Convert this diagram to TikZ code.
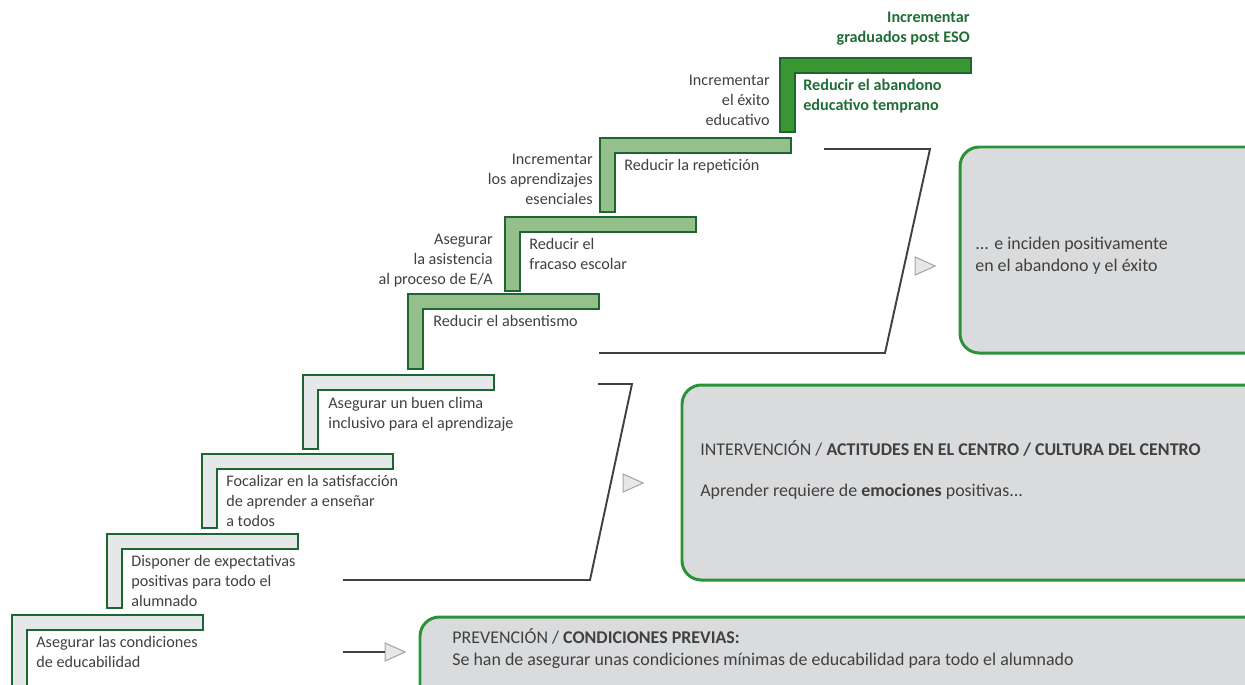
\documentclass[tikz,border=0pt]{standalone}
\usepackage{fontspec}
\setmainfont{Carlito}
\usetikzlibrary{shapes.geometric}
\definecolor{stepline}{HTML}{1E6631}
\definecolor{stepgray}{HTML}{E6E7E8}
\definecolor{stepmid}{HTML}{95C08B}
\definecolor{steptop}{HTML}{3A9632}
\definecolor{boxline}{HTML}{2B923A}
\definecolor{boxfill}{HTML}{DADBDD}
\definecolor{txt}{HTML}{404040}
\definecolor{toptxt}{HTML}{1F6E36}
\definecolor{trigray}{HTML}{A6A6A6}
\tikzset{stair/.style = {draw=stepline, line width=1.1pt, line join=miter},
  lbl/.style = {anchor=north west, inner sep=0, align=left, text=txt,
    font=\fontsize{9.2}{11.4}\selectfont},
  rlbl/.style = {lbl, anchor=north east, align=right},
  goal/.style = {lbl, text=toptxt, font=\fontsize{9.2}{11.4}\selectfont\bfseries},
  panel/.style = {draw=boxline, fill=boxfill, line width=1.7pt, rounded corners=11pt},
  ptxt/.style = {lbl, font=\fontsize{10.2}{12.5}\selectfont},
  brace/.style = {draw=txt, line width=1.1pt},
  tri/.style = {isosceles triangle, isosceles triangle stretches, draw=trigray,
    fill=stepgray, line width=0.6pt, inner sep=0, minimum width=0.36cm,
    minimum height=0.4cm, shape border rotate=0}}

\begin{document}
\begin{tikzpicture}[x=0.02cm, y=-0.02cm]
      \useasboundingbox (0, 0) rectangle (1245, 684);
      \clip (0, 0) rectangle (1245, 684);
      % steps
      \foreach \l/\t/\b/\c in {12/615/720/stepgray, 107/534/608/stepgray,
          202/454/528/stepgray, 303/375/449/stepgray, 408/294/369/stepmid,
          505/217/291/stepmid, 600/138/212/stepmid, 780/58/132/steptop} {
        \draw [stair, fill=\c] (\l, \t) -- ++(191, 0) -- ++(0, 15)
          -- (\l + 15, \t + 15) -- (\l + 15, \b) -- (\l, \b) -- cycle;
      }
      \node [lbl] (s1) at (36, 636) {Asegurar las condiciones\\de educabilidad};
      \node [lbl] (s2) at (131, 555) {Disponer de expectativas\\positivas para todo el\\alumnado};
      \node [lbl] (s3) at (226, 475) {Focalizar en la satisfacción\\de aprender a enseñar\\a todos};
      \node [lbl] (s4) at (328, 397) {Asegurar un buen clima\\inclusivo para el aprendizaje};
      \node [lbl] (s5) at (433, 315) {Reducir el absentismo};
      \node [lbl] (s6) at (529, 238) {Reducir el\\fracaso escolar};
      \node [lbl] (s7) at (624, 159) {Reducir la repetición};
      \node [goal] (s8) at (803, 79) {Reducir el abandono\\educativo temprano};
      \node [goal, anchor=north east, align=right] (t1) at (970, 12) {Incrementar\\graduados post ESO};
      \node [rlbl] (e1) at (493, 234) {Asegurar\\la asistencia\\al proceso de E/A};
      \node [rlbl] (e2) at (593, 154) {Incrementar\\los aprendizajes\\esenciales};
      \node [rlbl] (e3) at (770, 75) {Incrementar\\el éxito\\educativo};
      % braces and arrows
      \draw [brace] (824, 149) -- (930, 149) -- (885, 353) -- (599, 353);
      \draw [brace] (598, 384) -- (632, 384) -- (590, 580) -- (343, 580);
      \node [tri] (tri1) at (921, 266) {};
      \node [tri] (tri2) at (629, 483) {};
      \node [tri] (tri3) at (391, 652) {};
      \coordinate (c3) at (343, 652);
      \draw [brace] (c3) -- (tri3.west);
      % panels
      \draw [panel] (960, 147) rectangle (1280, 353);
      \draw [panel] (682, 385) rectangle (1280, 580);
      \draw [panel] (420, 617) rectangle (1280, 720);
      \node [ptxt] (p1) at (975, 237) {... e inciden positivamente\\en el abandono y el éxito};
      \node [ptxt] (p2) at (700, 440) {INTERVENCIÓN / \textbf{ACTITUDES EN EL CENTRO / CULTURA DEL CENTRO}};
      \node [ptxt] (p3) at (700, 484) {Aprender requiere de \textbf{emociones} positivas...};
      \node [ptxt] (p4) at (452, 628) {PREVENCIÓN / \textbf{CONDICIONES PREVIAS:}\\Se han de asegurar unas condiciones mínimas de educabilidad para todo el alumnado};
    \end{tikzpicture}
\end{document}
